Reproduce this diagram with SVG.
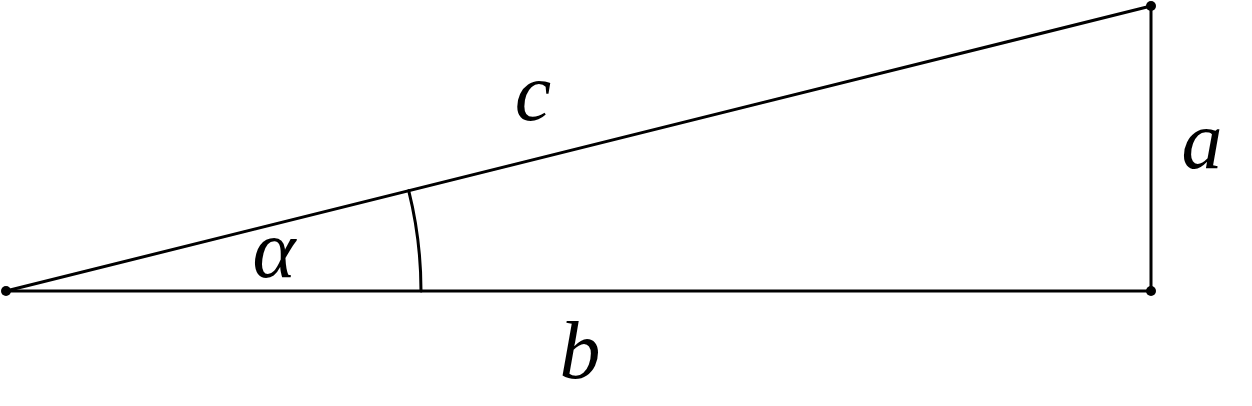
<svg xmlns="http://www.w3.org/2000/svg" width="1252" height="406" viewBox="0 0 1252 406">
<style>
.e{stroke:#000;stroke-width:3;fill:none;stroke-linecap:round}
.p{fill:#000}
.l{font-family:"Liberation Serif","DejaVu Serif",serif;font-style:italic;font-size:82px;fill:#000}
</style>
<rect width="1252" height="406" fill="#fff"/>
<g id="connectors">
<line class="e" x1="6" y1="291" x2="1151" y2="291"/>
<line class="e" x1="1151" y1="291" x2="1151" y2="6"/>
<line class="e" x1="6" y1="291" x2="1151" y2="6"/>
<path class="e" d="M421,291 A415,415 0 0 0 408.7,190.6"/>
</g>
<g id="A"><circle class="p" cx="6" cy="291" r="5"/></g>
<g id="B"><circle class="p" cx="1151" cy="291" r="5"/></g>
<g id="C"><circle class="p" cx="1151" cy="6" r="5"/></g>
<g id="labels">
<text class="l" x="533" y="120" text-anchor="middle">c</text>
<text class="l" x="1202" y="168" text-anchor="middle">a</text>
<text class="l" x="580" y="378" text-anchor="middle">b</text>
<text class="l" x="274" y="277" text-anchor="middle">α</text>
</g>
</svg>
